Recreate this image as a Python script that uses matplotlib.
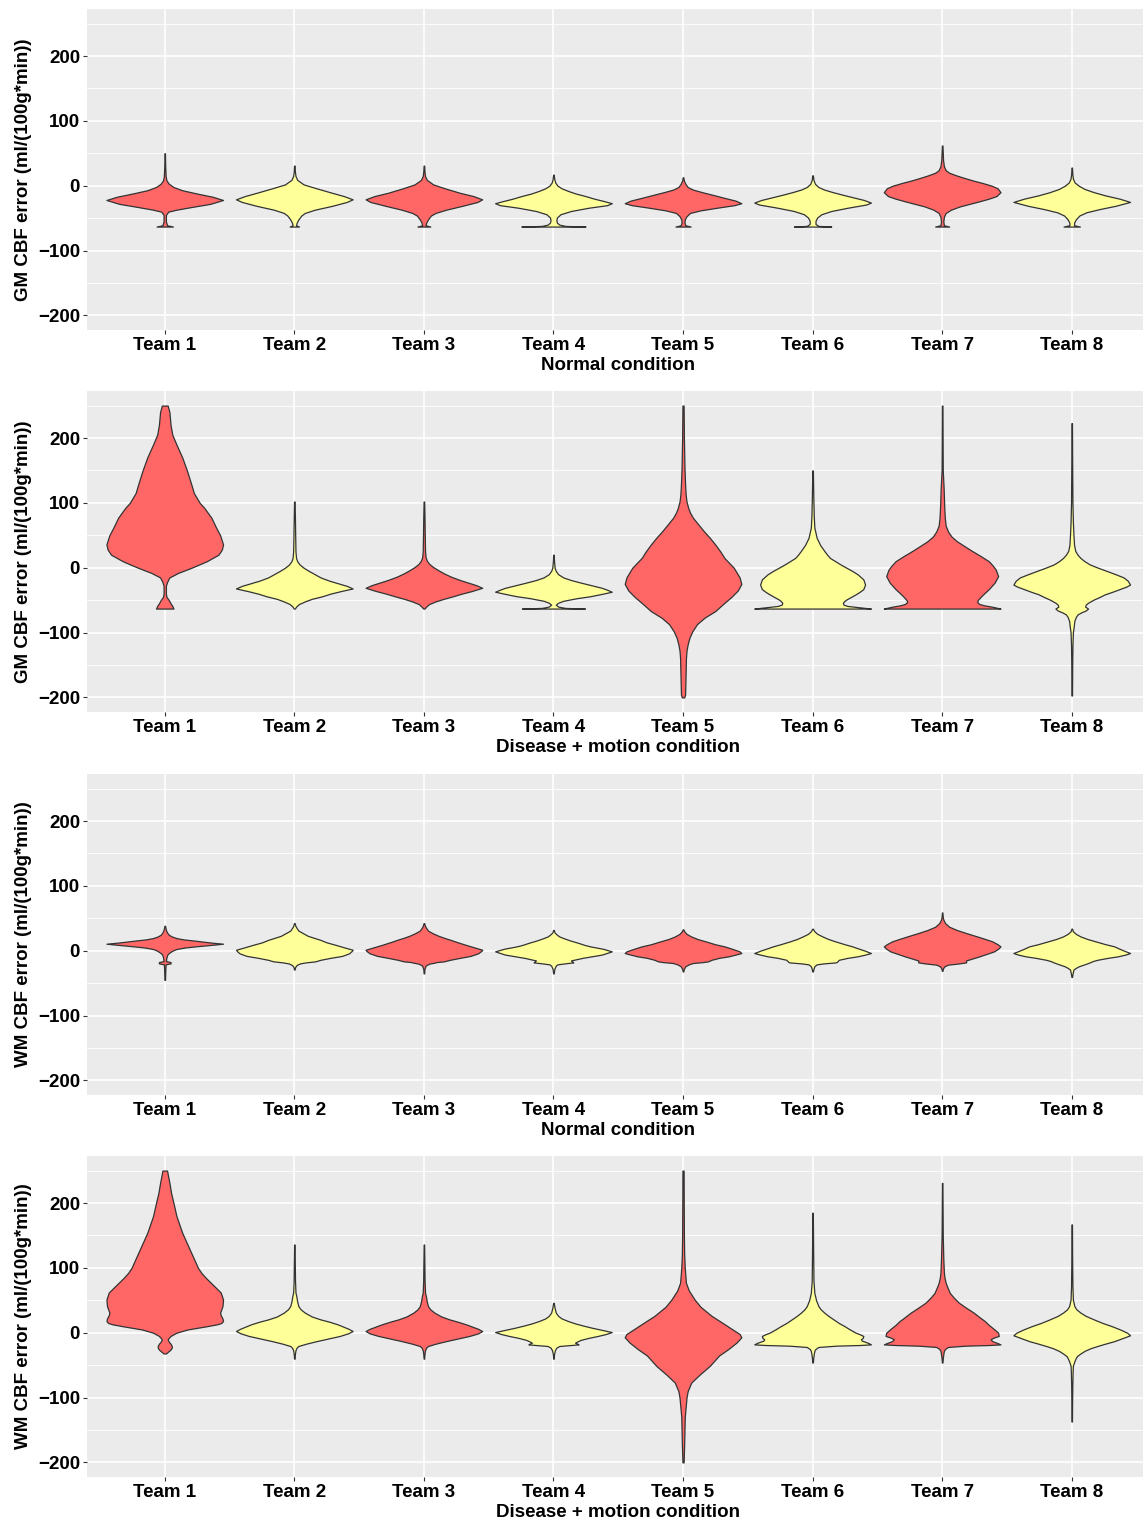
import matplotlib.pyplot as plt
from matplotlib.ticker import MultipleLocator
import numpy as np

plt.rcParams['font.family'] = ['Liberation Sans', 'DejaVu Sans']
plt.rcParams['font.weight'] = 'bold'

teams = ["Team 1", "Team 2", "Team 3", "Team 4", "Team 5", "Team 6", "Team 7", "Team 8"]
fill_colors = ["#FF6666", "#FFFF99", "#FF6666", "#FFFF99", "#FF6666", "#FFFF99", "#FF6666", "#FFFF99"]

# violin outlines: (error value, relative half width)
gm_normal = [
    [(-63, 0.14), (-61, 0.04), (-55, 0.02), (-45, 0.02), (-40, 0.06), (-37, 0.2), (-33, 0.45), (-28, 0.78),
     (-22, 1.0), (-17, 0.82), (-12, 0.55), (-7, 0.3), (-2, 0.15), (3, 0.07), (8, 0.03), (15, 0.015), (30, 0.008), (50, 0.004)],
    [(-63, 0.08), (-61, 0.03), (-57, 0.04), (-52, 0.07), (-46, 0.12), (-42, 0.18), (-37, 0.35), (-31, 0.65), (-25, 0.9),
     (-21, 1.0), (-16, 0.85), (-11, 0.65), (-4, 0.38), (2, 0.16), (9, 0.05), (15, 0.02), (22, 0.01), (31, 0.005)],
    [(-63, 0.11), (-61, 0.03), (-57, 0.04), (-52, 0.07), (-46, 0.12), (-42, 0.2), (-37, 0.38), (-31, 0.66), (-25, 0.92),
     (-21, 1.0), (-16, 0.85), (-11, 0.62), (-4, 0.36), (2, 0.16), (9, 0.05), (15, 0.02), (22, 0.01), (31, 0.005)],
    [(-63, 0.55), (-62, 0.2), (-60, 0.1), (-57, 0.06), (-53, 0.05), (-49, 0.06), (-44, 0.12), (-39, 0.3), (-34, 0.6),
     (-30, 0.92), (-27, 1.0), (-24, 0.88), (-20, 0.7), (-16, 0.55), (-12, 0.38), (-8, 0.25), (-4, 0.14), (0, 0.07),
     (5, 0.03), (10, 0.015), (17, 0.005)],
    [(-63, 0.13), (-61, 0.04), (-57, 0.025), (-52, 0.03), (-47, 0.06), (-42, 0.12), (-38, 0.3), (-34, 0.58), (-30, 0.88),
     (-27, 1.0), (-23, 0.9), (-19, 0.72), (-15, 0.55), (-10, 0.33), (-6, 0.17), (-2, 0.08), (3, 0.04), (8, 0.015), (13, 0.005)],
    [(-63, 0.32), (-62, 0.1), (-59, 0.05), (-54, 0.05), (-49, 0.08), (-44, 0.15), (-39, 0.32), (-34, 0.6), (-29, 0.92),
     (-26, 1.0), (-22, 0.88), (-18, 0.7), (-14, 0.52), (-10, 0.35), (-6, 0.2), (-2, 0.1), (3, 0.04), (9, 0.015), (16, 0.005)],
    [(-63, 0.12), (-61, 0.03), (-55, 0.02), (-48, 0.03), (-42, 0.06), (-37, 0.15), (-32, 0.3), (-28, 0.47), (-24, 0.64),
     (-20, 0.8), (-16, 0.93), (-10, 1.0), (-4, 0.95), (0, 0.85), (4, 0.7), (8, 0.53), (12, 0.38), (16, 0.24), (20, 0.12),
     (24, 0.06), (30, 0.03), (40, 0.015), (62, 0.005)],
    [(-63, 0.14), (-61, 0.04), (-57, 0.04), (-52, 0.07), (-46, 0.13), (-41, 0.25), (-36, 0.48), (-31, 0.75), (-25, 1.0),
     (-20, 0.82), (-15, 0.58), (-10, 0.38), (-5, 0.22), (0, 0.12), (5, 0.05), (11, 0.02), (18, 0.01), (28, 0.004)],
]

gm_disease = [
    [(-63, 0.15), (-59, 0.13), (-55, 0.1), (-50, 0.07), (-45, 0.03), (-40, 0.02), (-28, 0.02), (-22, 0.04), (-15, 0.08),
     (-8, 0.23), (0, 0.46), (10, 0.72), (20, 0.92), (28, 0.98), (36, 1.0), (50, 0.95), (62, 0.88), (77, 0.8), (92, 0.68),
     (100, 0.6), (115, 0.5), (130, 0.45), (150, 0.38), (170, 0.3), (190, 0.2), (205, 0.13), (220, 0.1), (240, 0.08), (250, 0.05)],
    [(-63, 0.01), (-60, 0.03), (-56, 0.08), (-52, 0.18), (-48, 0.3), (-44, 0.48), (-40, 0.62), (-36, 0.8), (-32, 1.0),
     (-28, 0.9), (-24, 0.75), (-20, 0.6), (-15, 0.45), (-10, 0.35), (-5, 0.25), (0, 0.16), (5, 0.09), (10, 0.05),
     (15, 0.03), (25, 0.02), (50, 0.015), (80, 0.01), (102, 0.005)],
    [(-63, 0.01), (-60, 0.04), (-56, 0.09), (-52, 0.2), (-48, 0.34), (-44, 0.5), (-40, 0.65), (-36, 0.82), (-31, 1.0),
     (-27, 0.9), (-23, 0.76), (-19, 0.62), (-14, 0.47), (-9, 0.35), (-4, 0.25), (1, 0.16), (6, 0.09), (11, 0.05),
     (16, 0.03), (25, 0.02), (50, 0.015), (80, 0.01), (102, 0.005)],
    [(-63, 0.54), (-62, 0.2), (-60, 0.08), (-57, 0.04), (-54, 0.08), (-51, 0.17), (-47, 0.4), (-44, 0.63), (-40, 0.85),
     (-37, 1.0), (-34, 0.92), (-31, 0.83), (-27, 0.65), (-23, 0.47), (-19, 0.3), (-15, 0.17), (-10, 0.08), (-5, 0.04),
     (0, 0.02), (10, 0.01), (20, 0.005)],
    [(-200, 0.02), (-196, 0.035), (-180, 0.04), (-160, 0.045), (-140, 0.05), (-128, 0.06), (-118, 0.08), (-108, 0.11),
     (-98, 0.16), (-87, 0.24), (-77, 0.37), (-67, 0.55), (-55, 0.7), (-45, 0.83), (-35, 0.94), (-25, 1.0), (-15, 0.97),
     (0, 0.87), (15, 0.71), (25, 0.64), (36, 0.55), (46, 0.46), (56, 0.36), (67, 0.26), (77, 0.17), (85, 0.12), (92, 0.09),
     (102, 0.06), (113, 0.045), (130, 0.035), (154, 0.025), (200, 0.015), (250, 0.01)],
    [(-63, 1.0), (-62, 0.9), (-60.5, 0.75), (-59, 0.6), (-57, 0.53), (-54, 0.52), (-51, 0.55), (-49, 0.58), (-45, 0.66),
     (-41, 0.74), (-37, 0.81), (-33, 0.87), (-26, 0.9), (-18, 0.87), (-10, 0.77), (-5, 0.68), (0, 0.58), (5, 0.48),
     (10, 0.39), (15, 0.3), (20, 0.25), (26, 0.2), (35, 0.13), (46, 0.07), (62, 0.03), (80, 0.02), (110, 0.012), (150, 0.005)],
    [(-63, 1.0), (-62, 0.95), (-60, 0.85), (-58, 0.72), (-56, 0.64), (-53, 0.6), (-50, 0.61), (-44, 0.67), (-38, 0.74),
     (-33, 0.8), (-23, 0.9), (-13, 0.96), (-3, 0.92), (3, 0.87), (10, 0.8), (18, 0.66), (26, 0.51), (34, 0.37), (41, 0.25),
     (48, 0.16), (56, 0.1), (65, 0.06), (77, 0.045), (95, 0.035), (123, 0.025), (150, 0.01), (200, 0.007), (250, 0.005)],
    [(-197, 0.005), (-150, 0.008), (-120, 0.012), (-100, 0.02), (-90, 0.035), (-82, 0.045), (-76, 0.07), (-72, 0.1),
     (-69, 0.16), (-66, 0.24), (-63, 0.28), (-60, 0.23), (-57, 0.24), (-54, 0.28), (-49, 0.38), (-45, 0.48), (-41, 0.57),
     (-37, 0.7), (-33, 0.82), (-29, 0.94), (-26, 1.0), (-20, 0.96), (-15, 0.89), (-10, 0.75), (-5, 0.6), (0, 0.45),
     (5, 0.31), (10, 0.22), (15, 0.15), (20, 0.1), (26, 0.06), (35, 0.04), (50, 0.03), (70, 0.02), (100, 0.012),
     (150, 0.008), (223, 0.004)],
]

wm_normal = [
    [(-45, 0.005), (-30, 0.01), (-21, 0.015), (-19.5, 0.1), (-17.5, 0.1), (-16, 0.02), (-10, 0.03), (-6, 0.045),
     (-3.6, 0.07), (0, 0.13), (2.6, 0.2), (5, 0.35), (6.7, 0.53), (9, 0.8), (10.8, 1.0), (12.5, 0.8), (15.4, 0.53),
     (17.5, 0.32), (19.5, 0.2), (22, 0.12), (24.6, 0.07), (28, 0.04), (32, 0.02), (38.5, 0.005)],
    [(-29, 0.005), (-25, 0.015), (-22, 0.04), (-19.5, 0.1), (-18, 0.2), (-17, 0.3), (-16.4, 0.36), (-14, 0.45),
     (-11, 0.62), (-8, 0.82), (-4, 0.94), (0, 0.99), (1.5, 1.0), (5, 0.86), (9, 0.71), (13, 0.55), (17, 0.44),
     (19.5, 0.35), (23, 0.23), (27, 0.15), (31, 0.07), (35, 0.04), (38, 0.02), (42.6, 0.005)],
    [(-35, 0.005), (-28, 0.01), (-23, 0.03), (-20, 0.09), (-18.5, 0.18), (-17.5, 0.22), (-16.5, 0.34), (-14, 0.45),
     (-11, 0.62), (-8, 0.8), (-4, 0.93), (0, 0.99), (1.5, 1.0), (5, 0.87), (9, 0.72), (13, 0.58), (17, 0.45),
     (19.5, 0.36), (23, 0.25), (27, 0.15), (31, 0.07), (35, 0.04), (38, 0.02), (42.6, 0.005)],
    [(-35, 0.005), (-28, 0.015), (-23, 0.04), (-21, 0.07), (-19.5, 0.2), (-18, 0.34), (-16.5, 0.32), (-15, 0.3),
     (-11, 0.5), (-6, 0.83), (-1, 1.0), (3, 0.85), (6.7, 0.63), (9, 0.53), (12, 0.43), (16, 0.28), (19.5, 0.17),
     (22, 0.1), (24.6, 0.06), (28, 0.02), (32, 0.005)],
    [(-32, 0.005), (-28, 0.015), (-24, 0.04), (-21, 0.1), (-19, 0.17), (-17.5, 0.35), (-16.4, 0.43), (-14, 0.49),
     (-11, 0.62), (-8.7, 0.78), (-6, 0.9), (-3.6, 1.0), (-1, 0.97), (3, 0.84), (6.7, 0.71), (10, 0.55), (14.4, 0.39),
     (18, 0.25), (22, 0.14), (26, 0.06), (30, 0.02), (33, 0.005)],
    [(-32, 0.005), (-28, 0.015), (-24, 0.03), (-21, 0.07), (-19.5, 0.2), (-18, 0.4), (-17, 0.42), (-14, 0.45),
     (-11, 0.6), (-8.7, 0.77), (-6, 0.9), (-3.6, 1.0), (0, 0.9), (3, 0.8), (6.7, 0.68), (10, 0.55), (14.4, 0.39),
     (18, 0.27), (22, 0.17), (26, 0.08), (30, 0.03), (34, 0.005)],
    [(-31, 0.005), (-27, 0.015), (-24, 0.04), (-21.5, 0.1), (-19.5, 0.3), (-18, 0.41), (-15, 0.41), (-12, 0.52),
     (-8.7, 0.64), (-5, 0.76), (-1, 0.89), (3, 0.96), (6.7, 1.0), (10, 0.95), (14.4, 0.86), (18, 0.74), (22, 0.6),
     (27, 0.42), (32, 0.25), (37, 0.12), (42.6, 0.05), (48, 0.02), (52, 0.01), (59, 0.004)],
    [(-40.5, 0.005), (-35, 0.015), (-29, 0.03), (-26.5, 0.07), (-24, 0.12), (-21, 0.22), (-18, 0.31), (-16, 0.36),
     (-14, 0.44), (-11, 0.62), (-8.7, 0.79), (-6, 0.92), (-3.6, 1.0), (0, 0.9), (3, 0.82), (6.7, 0.73), (10, 0.58),
     (14.4, 0.41), (18, 0.27), (22, 0.15), (26, 0.07), (30, 0.02), (34, 0.005)],
]

wm_disease = [
    [(-32, 0.02), (-29, 0.06), (-26, 0.1), (-23, 0.12), (-20.5, 0.12), (-17, 0.1), (-14, 0.07), (-10, 0.05), (-5, 0.1),
     (0, 0.2), (5, 0.39), (10, 0.72), (13, 0.9), (15, 0.97), (18, 1.0), (22, 0.99), (27, 0.96), (31, 0.95), (36, 0.97),
     (41, 0.99), (51, 1.0), (62, 0.96), (70, 0.87), (77, 0.79), (85, 0.7), (92, 0.63), (100, 0.57), (110, 0.52),
     (128, 0.43), (140, 0.37), (154, 0.3), (167, 0.25), (180, 0.2), (200, 0.15), (215, 0.11), (231, 0.08), (245, 0.05),
     (250, 0.04)],
    [(-40, 0.005), (-33, 0.01), (-27, 0.02), (-23, 0.04), (-20.5, 0.07), (-17, 0.2), (-13, 0.38), (-9, 0.58), (-5, 0.78),
     (-1, 0.92), (2.6, 1.0), (6, 0.93), (9, 0.85), (13, 0.74), (17, 0.6), (20.5, 0.45), (25, 0.3), (31, 0.18), (36, 0.11),
     (41, 0.07), (48, 0.05), (56, 0.035), (62, 0.02), (80, 0.012), (110, 0.008), (136, 0.004)],
    [(-40, 0.005), (-33, 0.01), (-27, 0.02), (-23, 0.04), (-20.5, 0.07), (-17, 0.2), (-13, 0.38), (-9, 0.58), (-5, 0.78),
     (-1, 0.93), (2.6, 1.0), (6, 0.93), (9, 0.84), (13, 0.72), (17, 0.58), (20.5, 0.44), (25, 0.3), (31, 0.18),
     (36, 0.11), (41, 0.07), (48, 0.05), (56, 0.035), (62, 0.02), (80, 0.012), (110, 0.008), (136, 0.004)],
    [(-40, 0.005), (-33, 0.01), (-27, 0.025), (-23, 0.05), (-20.5, 0.1), (-19, 0.3), (-18, 0.43), (-16.5, 0.4),
     (-15.4, 0.37), (-13, 0.42), (-11, 0.47), (-8, 0.6), (-5, 0.76), (-2, 0.9), (1, 1.0), (4, 0.85), (7.7, 0.66),
     (11, 0.51), (14.4, 0.37), (18, 0.25), (22, 0.14), (26, 0.08), (31, 0.04), (38, 0.02), (46, 0.005)],
    [(-200, 0.01), (-170, 0.02), (-130, 0.03), (-100, 0.06), (-90, 0.08), (-77, 0.14), (-65, 0.28), (-51, 0.46),
     (-35, 0.62), (-25, 0.78), (-15, 0.92), (-7, 1.0), (-2, 0.97), (5, 0.85), (15, 0.68), (26, 0.49), (40, 0.3),
     (51, 0.2), (65, 0.1), (77, 0.05), (100, 0.03), (120, 0.02), (150, 0.015), (200, 0.012), (250, 0.01)],
    [(-46, 0.005), (-40, 0.01), (-33, 0.02), (-28, 0.03), (-25, 0.05), (-22, 0.1), (-20, 0.4), (-19, 0.8), (-18, 1.0),
     (-16, 0.96), (-14, 0.9), (-12, 0.84), (-10, 0.83), (-8, 0.86), (-5, 0.87), (-2, 0.8), (0, 0.74), (5, 0.64),
     (10, 0.55), (15, 0.45), (20.5, 0.36), (26, 0.27), (31, 0.2), (36, 0.14), (41, 0.1), (50, 0.06), (61.5, 0.03),
     (80, 0.015), (120, 0.01), (185, 0.004)],
    [(-46, 0.005), (-40, 0.01), (-33, 0.02), (-28, 0.03), (-25, 0.05), (-22, 0.1), (-20, 0.4), (-19, 0.8), (-18, 1.0),
     (-16, 0.95), (-13, 0.86), (-10, 0.83), (-7, 0.9), (-5, 0.97), (0, 0.96), (4, 0.91), (7.7, 0.86), (12, 0.8),
     (18, 0.73), (24, 0.64), (31, 0.54), (38, 0.42), (46, 0.29), (54, 0.2), (61.5, 0.13), (70, 0.09), (77, 0.06),
     (85, 0.04), (92, 0.03), (113, 0.02), (150, 0.01), (190, 0.007), (231, 0.004)],
    [(-137, 0.004), (-110, 0.006), (-80, 0.01), (-60, 0.015), (-51, 0.02), (-44, 0.045), (-40, 0.065), (-36, 0.09),
     (-32, 0.15), (-28, 0.22), (-24, 0.32), (-20.5, 0.44), (-17, 0.57), (-13, 0.73), (-8, 0.88), (-4, 1.0), (0, 0.95),
     (5, 0.83), (10, 0.69), (15, 0.53), (20.5, 0.38), (26, 0.24), (31, 0.15), (36, 0.08), (41, 0.045), (51, 0.02),
     (70, 0.012), (100, 0.008), (130, 0.006), (167, 0.004)],
]

panels = [
    (gm_normal, "GM CBF error (ml/(100g*min))", "Normal condition"),
    (gm_disease, "GM CBF error (ml/(100g*min))", "Disease + motion condition"),
    (wm_normal, "WM CBF error (ml/(100g*min))", "Normal condition"),
    (wm_disease, "WM CBF error (ml/(100g*min))", "Disease + motion condition"),
]

W, H = 1143, 1524
fig = plt.figure(figsize=(W / 100, H / 100), dpi=100)
panel_tops = [9, 391, 774, 1156]
panel_h = 321
fs = 13.5

for (profiles, ylab, xlab), top in zip(panels, panel_tops):
    ax = fig.add_axes([87 / W, 1 - (top + panel_h) / H, (W - 87) / W, panel_h / H])
    ax.set_facecolor("#EBEBEB")
    for i, prof in enumerate(profiles):
        yv = np.array([p[0] for p in prof])
        half = np.array([p[1] for p in prof]) * 0.45
        ax.fill_betweenx(yv, i + 1 - half, i + 1 + half, facecolor=fill_colors[i],
                         edgecolor="#333333", linewidth=0.9, zorder=3)

    ax.set_xlim(0.4, 8.55)
    ax.set_ylim(-222.5, 272.5)
    ax.set_xticks(range(1, 9))
    ax.set_xticklabels(teams)
    ax.set_yticks([-200, -100, 0, 100, 200])
    ax.yaxis.set_minor_locator(MultipleLocator(50))
    ax.set_axisbelow(True)
    ax.grid(which="major", color="white", linewidth=1.2)
    ax.grid(which="minor", axis="y", color="white", linewidth=0.6)
    for s in ax.spines.values():
        s.set_visible(False)
    ax.tick_params(which="major", length=3, width=0.8, color="#333333", pad=2,
                   labelsize=fs, labelcolor="black")
    ax.tick_params(which="minor", length=0)
    for lab in ax.get_xticklabels() + ax.get_yticklabels():
        lab.set_fontweight("bold")
    ax.set_ylabel(ylab, fontsize=fs, fontweight="bold", labelpad=4)
    ax.set_xlabel(xlab, fontsize=fs, fontweight="bold", labelpad=2)
    # x title sits centred on the full (partly cropped) panel
    ax.xaxis.set_label_coords(0.503, -0.085, transform=ax.transAxes)
    ax.xaxis.label.set_va("top")

fig.savefig("out.png", dpi=100, facecolor="white")
